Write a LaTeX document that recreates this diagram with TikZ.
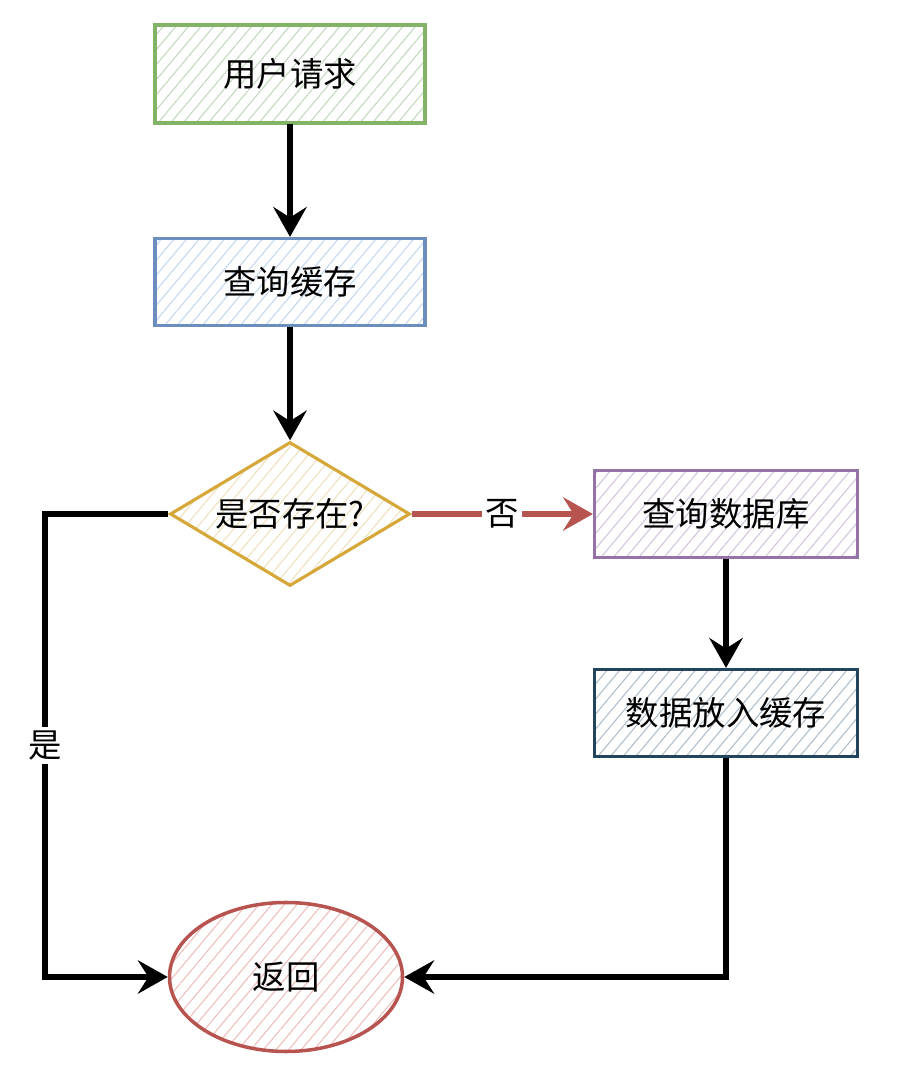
\documentclass[tikz,border=0pt]{standalone}
\usepackage{fontspec}
\setmainfont{Noto Sans CJK SC}
\usetikzlibrary{shapes.geometric, patterns.meta, arrows.meta}

\definecolor{reqline}{HTML}{82B366}
\definecolor{reqfill}{HTML}{C2D8BE}
\definecolor{cacheline}{HTML}{6C8EBF}
\definecolor{cachefill}{HTML}{C4D6EE}
\definecolor{askline}{HTML}{D6A83A}
\definecolor{askfill}{HTML}{EEE0BC}
\definecolor{dbline}{HTML}{9673A6}
\definecolor{dbfill}{HTML}{D3C4DB}
\definecolor{putline}{HTML}{23445D}
\definecolor{putfill}{HTML}{AEBDC9}
\definecolor{retline}{HTML}{B85450}
\definecolor{retfill}{HTML}{EDBDBB}

\begin{document}
\begin{tikzpicture}[
    txt/.style={font=\fontsize{19}{23}\selectfont},
    box/.style={txt, draw, line width=1.8pt, minimum width=5.4cm, minimum height=1.74cm},
    hatch/.style={pattern={Lines[angle=50, distance=5.5pt, line width=0.6pt]}, pattern color=#1},
    flow/.style={line width=3pt, -{Stealth[length=17pt, width=19pt, inset=6pt]}},
    lbl/.style={txt, fill=white, inner sep=2pt}
]
    \useasboundingbox (0,0) rectangle (18,21.56);

    \node[box, draw=reqline, hatch=reqfill, minimum height=1.96cm] (req) at (5.8,20.08) {用户请求};
    \node[box, draw=cacheline, hatch=cachefill] (cache) at (5.8,15.92) {查询缓存};
    \node[txt, diamond, draw=askline, line width=1.8pt, hatch=askfill, aspect=1.667,
          inner sep=0pt, minimum width=4.8cm, minimum height=2.88cm] (ask) at (5.8,11.28) {是否存在?};
    \node[box, draw=dbline, hatch=dbfill, minimum width=5.26cm] (db) at (14.52,11.28) {查询数据库};
    \node[box, draw=putline, hatch=putfill, minimum width=5.26cm] (put) at (14.52,7.30) {数据放入缓存};
    \node[txt, ellipse, draw=retline, line width=2pt, hatch=retfill,
          minimum width=4.66cm, minimum height=2.98cm] (ret) at (5.72,2.02) {返回};

    \coordinate (ytop) at (0.9,11.28);
    \coordinate (ybot) at (0.9,2.02);

    \draw[flow] (req) -- (cache);
    \draw[flow] (cache) -- (ask);
    \draw[flow, draw=retline, fill=retline] (ask.east) -- node[lbl] {否} (db.west);
    \draw[flow] (db) -- (put);
    \draw[flow] (ask.west) -- (ytop) -- node[lbl] {是} (ybot) -- (ret.west);
    \draw[flow] (put.south) |- (ret.east);
\end{tikzpicture}
\end{document}
